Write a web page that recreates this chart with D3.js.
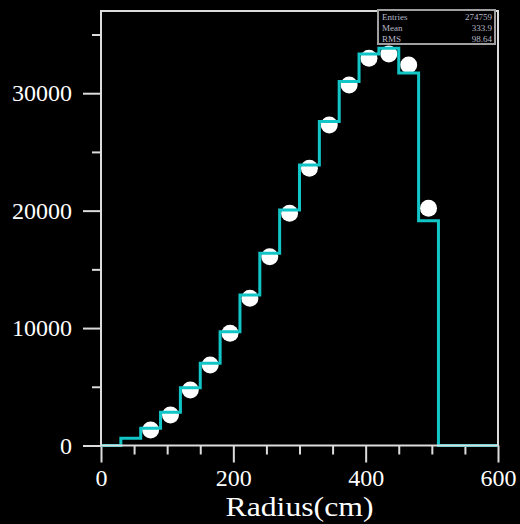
<!DOCTYPE html>
<html>
<head>
<meta charset="utf-8">
<script src="https://cdn.jsdelivr.net/npm/d3@7"></script>
<style>
  html, body { margin: 0; padding: 0; background: #000; }
  svg { display: block; }
</style>
</head>
<body>
<svg id="chart" width="520" height="524"></svg>
<script>
// ---- data ----
const binEdges = [0,30,60,90,120,150,180,210,240,270,300,330,360,390,420,450,480,510,540,570,600];
const histValues = [0,613,1465,2828,4923,7002,9693,12819,16371,20060,23893,27581,30988,33348,33833,31729,19148,0,0,0];
const pointX = [75,105,135,165,195,225,255,285,315,345,375,405,435,465,495];
const pointY = [1320,2598,4727,6857,9557,12538,16082,19778,23612,27300,30707,32981,33348,32411,20204];
const xMajorTicks = [0,200,400,600];
const xMinorTicks = [50,100,150,250,300,350,450,500,550];
const yMajorTicks = [0,10000,20000,30000];
const yMinorTicks = [5000,15000,25000,35000];
const statLabels = ["Entries","Mean","RMS"];
const statValues = ["274759","333.9","98.64"];
const xTitle = "Radius(cm)";

// ---- layout ----
const svg = d3.select("#chart");
const L = 101, R = 498, T = 11, B = 445.5;
const x = d3.scaleLinear().domain([0,600]).range([L,R]);
const y = d3.scaleLinear().domain([0,37000]).range([B,T]);
const axisColor = "#dcdcdc";
const fontSerif = "'Liberation Serif','DejaVu Serif',serif";

svg.append("rect").attr("width",520).attr("height",524).attr("fill","#000");

// axes
function styleAxis(g){
  g.select(".domain").remove();
  g.selectAll(".tick line").attr("stroke",axisColor).attr("stroke-width",2);
  g.selectAll(".tick text").attr("fill","#fff").attr("font-family",fontSerif).attr("font-size",24);
}
svg.append("g").attr("transform",`translate(0,${B})`)
  .call(d3.axisBottom(x).tickValues(xMinorTicks).tickSize(9).tickFormat(""))
  .call(styleAxis);
svg.append("g").attr("transform",`translate(0,${B})`)
  .call(d3.axisBottom(x).tickValues(xMajorTicks).tickSize(17).tickPadding(6).tickFormat(d3.format("d")))
  .call(styleAxis);
svg.append("g").attr("transform",`translate(${L},0)`)
  .call(d3.axisLeft(y).tickValues(yMinorTicks).tickSize(9).tickFormat(""))
  .call(styleAxis);
svg.append("g").attr("transform",`translate(${L},0)`)
  .call(d3.axisLeft(y).tickValues(yMajorTicks).tickSize(18).tickPadding(11).tickFormat(d3.format("d")))
  .call(styleAxis);

// points
svg.append("g").selectAll("circle").data(pointX).join("circle")
  .attr("cx",(d)=>x(d)).attr("cy",(d,i)=>y(pointY[i])).attr("r",8.5).attr("fill","#fff");

// histogram step line
const stepPts = [];
histValues.forEach((v,i)=>{ stepPts.push([binEdges[i],v]); stepPts.push([binEdges[i+1],v]); });
svg.append("path").datum(stepPts)
  .attr("d",d3.line().x(d=>x(d[0])).y(d=>y(d[1])))
  .attr("fill","none").attr("stroke","#12c6c8").attr("stroke-width",3)
  .attr("stroke-linejoin","miter");

// frame
svg.append("rect").attr("x",L).attr("y",T).attr("width",R-L).attr("height",B-T)
  .attr("fill","none").attr("stroke",axisColor).attr("stroke-width",2);

// stats box
const sb = svg.append("g");
sb.append("rect").attr("x",378).attr("y",10).attr("width",117).attr("height",34)
  .attr("fill","#000").attr("stroke","#a0a0a0").attr("stroke-width",2);
statLabels.forEach((s,i)=>{
  sb.append("text").attr("x",382).attr("y",19.5+i*11).text(s)
    .attr("fill","#b8b8c8").attr("font-family",fontSerif).attr("font-size",9);
  sb.append("text").attr("x",492).attr("y",19.5+i*11).attr("text-anchor","end").text(statValues[i])
    .attr("fill","#b8b8c8").attr("font-family",fontSerif).attr("font-size",9);
});

// x title
svg.append("text").attr("x",(L+R)/2).attr("y",516).attr("text-anchor","middle")
  .attr("fill","#fff").attr("font-family",fontSerif).attr("font-size",27)
  .attr("textLength",148).attr("lengthAdjust","spacingAndGlyphs").text(xTitle);
</script>
</body>
</html>
